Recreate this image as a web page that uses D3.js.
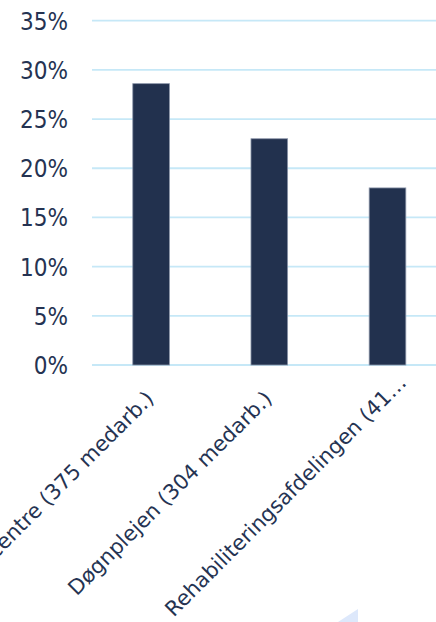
<!DOCTYPE html>
<html>
<head>
<meta charset="utf-8">
<script src="https://cdn.jsdelivr.net/npm/d3@7"></script>
<style>
  html, body { margin: 0; padding: 0; background: #ffffff; }
  svg { display: block; }
</style>
</head>
<body>
<div id="chart"></div>
<script>
const categories = [
  "Plejecentre (375 medarb.)",
  "Døgnplejen (304 medarb.)",
  "Rehabiliteringsafdelingen (41…"
];
const values = [0.286, 0.230, 0.180];
const yTicks = [0, 0.05, 0.10, 0.15, 0.20, 0.25, 0.30, 0.35];

const W = 436, H = 622;
const textColor = "#253352";
const barColor = "#22314e";
const gridColor = "#c6e8f7";
const tickFont = "'DejaVu Sans Condensed', 'DejaVu Sans', sans-serif";
const labelFont = "'DejaVu Sans', sans-serif";

const svg = d3.select("#chart").append("svg")
  .attr("width", W).attr("height", H);

const x = d3.scaleBand()
  .domain(categories)
  .range([92, 446.6])
  .paddingInner(0.69)
  .paddingOuter(0.345);

const y = d3.scaleLinear()
  .domain([0, 0.35])
  .range([365, 20.7]);

const yAxis = d3.axisLeft(y)
  .tickValues(yTicks)
  .tickFormat(d3.format(".0%"))
  .tickSize(0)
  .tickPadding(0);

const gy = svg.append("g").attr("transform", "translate(68,0)").call(yAxis);
gy.select(".domain").remove();
gy.selectAll("text")
  .attr("fill", textColor)
  .attr("font-family", tickFont)
  .attr("font-size", "24px")
  .attr("dy", "0.35em");

svg.append("g").selectAll("line").data(yTicks).join("line")
  .attr("x1", 92).attr("x2", W)
  .attr("y1", d => y(d)).attr("y2", d => y(d))
  .attr("stroke", gridColor).attr("stroke-width", 1.8);

svg.append("g").selectAll("rect").data(values).join("rect")
  .attr("x", (d, i) => x(categories[i]))
  .attr("width", x.bandwidth())
  .attr("y", d => y(d))
  .attr("height", d => y(0) - y(d))
  .attr("fill", barColor)
  .attr("stroke", "#8a94a8")
  .attr("stroke-width", 0.8);

svg.append("g").selectAll("text").data(categories).join("text")
  .attr("transform", d => {
    const shift = d.endsWith("…") ? 16 : 0;
    const cx = x(d) + x.bandwidth() / 2 + 4 + shift;
    const cy = 400 - shift;
    return `translate(${cx},${cy}) rotate(-45)`;
  })
  .attr("text-anchor", "end")
  .attr("fill", textColor)
  .attr("font-family", labelFont)
  .attr("font-size", "21px")
  .text(d => d);

svg.append("path")
  .attr("d", "M358,609 L358,622 L338,622 Z")
  .attr("fill", "#dde8fb");
</script>
</body>
</html>
